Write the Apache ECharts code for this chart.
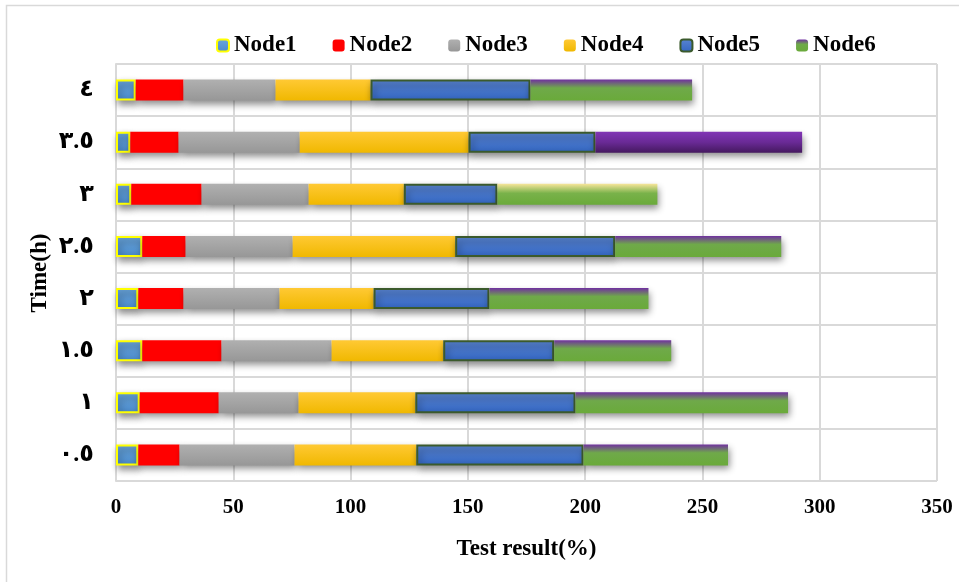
<!DOCTYPE html>
<html>
<head>
<meta charset="utf-8">
<script src="https://cdn.jsdelivr.net/npm/echarts@6/dist/echarts.min.js"></script>
<style>
  html, body { margin: 0; padding: 0; background: #fff; }
  #chart { width: 959px; height: 582px; }
</style>
</head>
<body>
<div id="chart"></div>
<script>
// categories, bottom to top
const times = ['٠.٥', '١', '١.٥', '٢', '٢.٥', '٣', '٣.٥', '٤'];
const valueTicks = [0, 50, 100, 150, 200, 250, 300, 350];

const node1 = [9.5, 10.1, 11.2, 9.5, 11.2, 6.5, 6.1, 8.4];
const node2 = [17.6, 33.7, 33.8, 19.3, 18.5, 30.0, 20.6, 20.4];
const node3 = [49.0, 34.0, 46.9, 40.9, 45.6, 45.6, 51.6, 39.2];
const node4 = [51.9, 49.8, 47.6, 40.1, 69.3, 40.6, 72.0, 40.5];
const node5 = [71.3, 68.3, 47.3, 49.4, 68.2, 39.9, 54.1, 68.2];
const node6 = [61.6, 90.6, 49.9, 67.8, 70.8, 68.2, 88.1, 68.9];

const font = "'Times New Roman', 'Liberation Serif', 'DejaVu Sans', serif";

const vgrad = (stops) => new echarts.graphic.LinearGradient(0, 0, 0, 1,
  stops.map(s => ({ offset: s[0], color: s[1] })));

const shadow = {
  shadowColor: 'rgba(0,0,0,0.45)',
  shadowBlur: 7,
  shadowOffsetX: 2,
  shadowOffsetY: 4
};

// Node6 fill varies by row (Excel style overrides)
const node6Default = vgrad([[0, '#7030A0'], [0.4, '#6FA94A'], [1, '#6AAA3A']]);
const node6Special = {
  5: vgrad([[0, '#F7E59A'], [0.45, '#79B24A'], [1, '#6AAA3A']]),
  6: vgrad([[0, '#8135B5'], [0.5, '#6A2A96'], [1, '#45195F']])
};

const chart = echarts.init(document.getElementById('chart'));

const option = {
  backgroundColor: '#fff',
  animation: false,
  graphic: [
    {
      type: 'rect',
      shape: { x: 6.5, y: 5.5, width: 980, height: 600 },
      style: { fill: 'none', stroke: '#D9D9D9', lineWidth: 1.5 },
      silent: true
    },
    {
      // y axis title, placed by hand so the label overlap logic doesn't push it
      type: 'text',
      x: 40,
      y: 273,
      rotation: Math.PI / 2,
      style: {
        text: 'Time(h)',
        font: 'bold 23px ' + font,
        fill: '#000',
        align: 'center',
        verticalAlign: 'middle'
      },
      silent: true
    }
  ],
  legend: {
    top: 29,
    left: 211,
    itemWidth: 12,
    itemHeight: 12,
    itemGap: 36,
    textStyle: { fontFamily: font, fontWeight: 'bold', fontSize: 23, color: '#000' },
    itemStyle: { shadowBlur: 0, shadowOffsetX: 0, shadowOffsetY: 0 },
    data: ['Node1', 'Node2', 'Node3', 'Node4', 'Node5', 'Node6']
  },
  grid: { left: 116, right: 22, top: 64, bottom: 101, containLabel: false },
  xAxis: {
    type: 'value',
    min: 0,
    max: 350,
    interval: 50,
    name: 'Test result(%)',
    nameLocation: 'middle',
    nameGap: 57,
    nameTextStyle: { fontFamily: font, fontWeight: 'bold', fontSize: 23, color: '#000' },
    axisLine: { show: false },
    axisTick: { show: false },
    axisLabel: {
      margin: 16,
      fontFamily: font, fontWeight: 'bold', fontSize: 21, color: '#000',
      formatter: v => valueTicks.includes(v) ? String(v) : ''
    },
    splitLine: { show: true, lineStyle: { color: '#D9D9D9', width: 2 } }
  },
  yAxis: {
    type: 'category',
    data: times,
    axisLine: { show: true, lineStyle: { color: '#D9D9D9', width: 2 } },
    axisTick: { show: false },
    axisLabel: { margin: 22, fontFamily: font, fontWeight: 'bold', fontSize: 24, color: '#000' },
    splitLine: { show: true, interval: 0, lineStyle: { color: '#D9D9D9', width: 2 } },
    boundaryGap: true
  },
  series: [
    {
      name: 'Node1', type: 'bar', stack: 'total', barWidth: 21, data: node1,
      itemStyle: Object.assign({
        color: vgrad([[0, '#6AA6DC'], [1, '#4A8ACB']]),
        borderColor: '#FFFF00', borderWidth: 2
      }, shadow)
    },
    {
      name: 'Node2', type: 'bar', stack: 'total', data: node2,
      itemStyle: Object.assign({ color: '#FF0000' }, shadow)
    },
    {
      name: 'Node3', type: 'bar', stack: 'total', data: node3,
      itemStyle: Object.assign({ color: vgrad([[0, '#B0B0B0'], [1, '#979797']]) }, shadow)
    },
    {
      name: 'Node4', type: 'bar', stack: 'total', data: node4,
      itemStyle: Object.assign({ color: vgrad([[0, '#FFC934'], [1, '#F0B800']]) }, shadow)
    },
    {
      name: 'Node5', type: 'bar', stack: 'total', data: node5,
      itemStyle: Object.assign({
        color: vgrad([[0, '#5A85D2'], [1, '#3366C2']]),
        borderColor: '#3B5A2C', borderWidth: 2
      }, shadow)
    },
    {
      name: 'Node6', type: 'bar', stack: 'total',
      data: node6.map((v, i) => node6Special[i]
        ? { value: v, itemStyle: { color: node6Special[i] } }
        : v),
      itemStyle: Object.assign({ color: node6Default }, shadow)
    }
  ]
};

chart.setOption(option);
</script>
</body>
</html>
